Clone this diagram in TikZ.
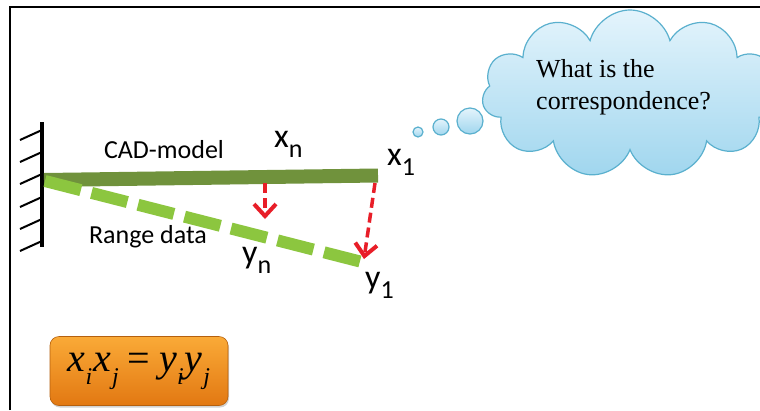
\documentclass[tikz,border=0pt]{standalone}
\usepackage{fontspec}
\setmainfont{Liberation Serif}
\newfontfamily\calib{Carlito}
\usetikzlibrary{arrows.meta,shapes.symbols,shadows}
\definecolor{barGreen}{RGB}{112,146,60}
\definecolor{rangeGreen}{RGB}{140,198,63}
\definecolor{arrowRed}{RGB}{232,30,40}
\definecolor{cloudTop}{RGB}{228,244,252}
\definecolor{cloudBot}{RGB}{160,214,238}
\definecolor{cloudLine}{RGB}{90,176,206}
\definecolor{boxTop}{RGB}{250,170,55}
\definecolor{boxBot}{RGB}{226,120,18}
\newcommand\lbsub[1]{\raisebox{-0.3em}{\fontsize{26}{26}\selectfont #1}}
\newcommand\eqsub[1]{\raisebox{-0.33em}{\fontsize{24}{24}\selectfont\itshape #1}}
\begin{document}
\begin{tikzpicture}[x=1pt,y=-1pt,
  lbl/.style={inner sep=0pt,font=\calib\fontsize{26}{26}\selectfont},
  var/.style={inner sep=0pt,anchor=base west,font=\calib\fontsize{34}{34}\selectfont},
  corr/.style={line width=3.5pt,arrowRed,dash pattern=on 10pt off 5pt,
    -{Straight Barb[length=12pt,width=22pt,line width=4pt]}},
  bubble/.style={draw=cloudLine,line width=1.2pt,top color=cloudTop,bottom color=cloudBot}]
\useasboundingbox (0,0) rectangle (760,410);
\fill[white] (0,0) rectangle (760,410);
% frame
\draw[line width=2pt] (10,410) -- (10,6.5) -- (760,6.5);
% wall
\draw[line width=4pt] (42,122) -- (42,247);
\foreach \yy in {130,152,174,197,219,241}
  \draw[line width=2pt] (20,\yy+10) -- (42,\yy);
% coordinates
\coordinate (barL) at (44,180);
\coordinate (barR) at (378,175.5);
\coordinate (rngL) at (45,181);
\coordinate (rngR) at (362,262);
\coordinate (xnT) at (265,183);
\coordinate (ynB) at (265,219);
\coordinate (x1T) at (375,183);
\coordinate (y1B) at (364,259);
% CAD bar and range data
\draw[line width=14pt,barGreen] (barL) -- (barR);
\draw[line width=12pt,rangeGreen,dash pattern=on 37pt off 11pt] (rngL) -- (rngR);
% correspondence arrows
\draw[corr] (xnT) -- (ynB);
\draw[corr] (x1T) -- (y1B);
% labels
\node[lbl] (cad) at (164,150) {CAD-model};
\node[lbl] (rng) at (148,237) {Range data};
\node[var] (xn) at (274,147) {x\lbsub{n}};
\node[var] (xone) at (387,165) {x\lbsub{1}};
\node[var] (yn) at (242,263) {y\lbsub{n}};
\node[var] (yone) at (365,288) {y\lbsub{1}};
% thought bubbles
\draw[bubble] (418,132) circle (5pt);
\draw[bubble] (441,127) circle (8pt);
\draw[bubble] (470,121) circle (13pt);
\node[cloud,cloud puffs=11,aspect=1.8,bubble,minimum width=296pt,minimum height=168pt,inner sep=0pt] (cloud) at (630,94) {};
\node[inner sep=0pt,align=left,anchor=north west,font=\fontsize{26}{32}\selectfont] (q) at (536,59) {What is the\\correspondence?};
% equation box
\node[rounded corners=9pt,minimum width=178pt,minimum height=69pt,inner sep=0pt,
  top color=boxTop,bottom color=boxBot,draw=boxBot!80!black,line width=0.6pt,
  drop shadow={shadow xshift=1pt,shadow yshift=-2pt,opacity=0.35},
  font=\fontsize{40}{40}\selectfont] (eq) at (139,371)
  {\itshape x\eqsub{i}\kern1pt x\eqsub{\kern1pt j}\hspace{9pt}{\upshape =}\hspace{9pt}y\eqsub{i}\kern1pt y\eqsub{\kern1pt j}};
\end{tikzpicture}
\end{document}
